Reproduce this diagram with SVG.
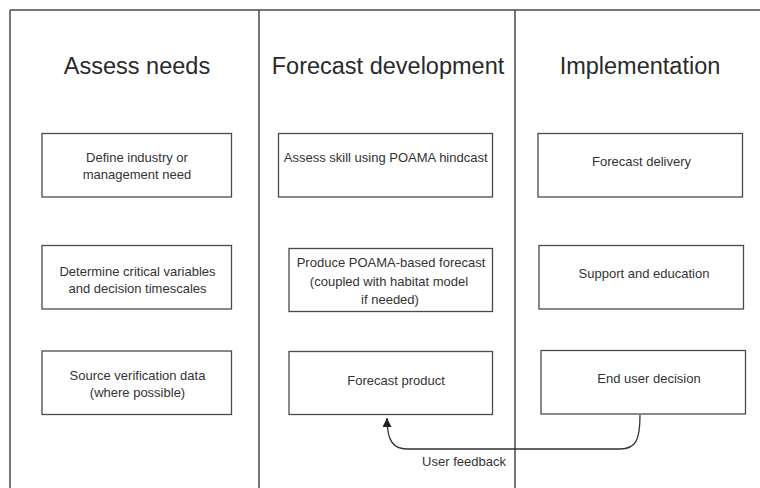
<svg xmlns="http://www.w3.org/2000/svg" width="760" height="488" viewBox="0 0 760 488">
<defs>
<style>
.frame{stroke:#4a4a4a;stroke-width:1.5;fill:none}
.box{fill:#fff;stroke:#4a4a4a;stroke-width:1.3}
.hdr{font-family:"Liberation Sans",Arial,sans-serif;font-size:23.5px;fill:#2a2a2a;text-anchor:middle}
.lbl{font-family:"Liberation Sans",Arial,sans-serif;font-size:13px;fill:#333;text-anchor:middle}
.conn{stroke:#333;stroke-width:1.3;fill:none}
</style>
<marker id="arr" viewBox="0 0 10 10" refX="10" refY="5" markerWidth="10" markerHeight="9" markerUnits="userSpaceOnUse" orient="auto">
<path d="M0,0 L10,5 L0,10 z" fill="#222"/>
</marker>
</defs>
<rect width="760" height="488" fill="#fff"/>
<g id="frame">
<line class="frame" x1="10" y1="10" x2="760" y2="10"/>
<line class="frame" x1="10" y1="10" x2="10" y2="488"/>
<line class="frame" x1="259" y1="10" x2="259" y2="488"/>
<line class="frame" x1="515" y1="10" x2="515" y2="488"/>
</g>
<g id="headers">
<text class="hdr" x="137" y="74">Assess needs</text>
<text class="hdr" x="388" y="74">Forecast development</text>
<text class="hdr" x="640" y="74">Implementation</text>
</g>
<g id="n1">
<rect class="box" x="42" y="133.5" width="189.5" height="63.5"/>
<text class="lbl" x="137" y="161.5">Define industry or</text>
<text class="lbl" x="137" y="178.5">management need</text>
</g>
<g id="n2">
<rect class="box" x="42" y="245.5" width="189.5" height="63.5"/>
<text class="lbl" x="137.5" y="275.5">Determine critical variables</text>
<text class="lbl" x="137.5" y="293">and decision timescales</text>
</g>
<g id="n3">
<rect class="box" x="42" y="351" width="189.5" height="63.5"/>
<text class="lbl" x="137.5" y="380">Source verification data</text>
<text class="lbl" x="137.5" y="397">(where possible)</text>
</g>
<g id="n4">
<rect class="box" x="278.5" y="133.5" width="214" height="63.5"/>
<text class="lbl" x="385.7" y="162">Assess skill using POAMA hindcast</text>
</g>
<g id="n5">
<rect class="box" x="289" y="248.5" width="203.5" height="63"/>
<text class="lbl" x="391" y="266.5">Produce POAMA-based forecast</text>
<text class="lbl" x="389" y="285.5">(coupled with habitat model</text>
<text class="lbl" x="390" y="304">if needed)</text>
</g>
<g id="n6">
<rect class="box" x="289" y="351.5" width="203.5" height="63"/>
<text class="lbl" x="396" y="385">Forecast product</text>
</g>
<g id="n7">
<rect class="box" x="538" y="133.5" width="204.5" height="63.5"/>
<text class="lbl" x="641.5" y="165.5">Forecast delivery</text>
</g>
<g id="n8">
<rect class="box" x="539" y="245.5" width="204.5" height="63.5"/>
<text class="lbl" x="644" y="277.5">Support and education</text>
</g>
<g id="n9">
<rect class="box" x="541" y="350.5" width="204.5" height="63.5"/>
<text class="lbl" x="649" y="382.5">End user decision</text>
</g>
<g id="connectors">
<path class="conn" d="M640 415 C640 440 636 449 620 449 L407 449 C394 449 387 442 387 418" marker-end="url(#arr)"/>
<text class="lbl" x="464" y="466">User feedback</text>
</g>
</svg>
